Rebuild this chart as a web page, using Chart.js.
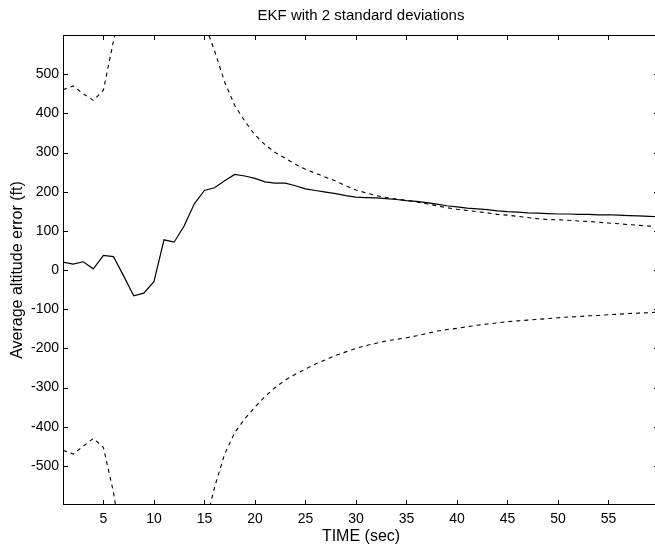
<!DOCTYPE html>
<html>
<head>
<meta charset="utf-8">
<script src="https://cdn.jsdelivr.net/npm/chart.js@4/dist/chart.umd.min.js"></script>
<style>
  html, body { margin: 0; padding: 0; background: #fff; overflow: hidden; }
  #wrap { width: 660px; height: 546px; }
</style>
</head>
<body>
<div id="wrap"><canvas id="ekfChart"></canvas></div>
<script>
// tempo (s)
const times = [1,2,3,4,5,6,7,8,9,10,11,12,13,14,15,16,17,18,19,20,
  21,22,23,24,25,26,27,28,29,30,31,32,33,34,35,36,37,38,39,40,
  41,42,43,44,45,46,47,48,49,50,51,52,53,54,55,56,57,58,59,60];

// erro medio de altitude (ft)
const avgError = [20,15,21,3,37,34,-15,-66,-59,-30,77,71,113,169,203,210,228,244,240,234,
  225,222,222,215,207,203,199,195,190,186,185,184,182,180,177,175,172,168,164,161,
  158,156,154,151,149,148,146,145,144,143,143,142,142,141,141,140,139,138,137,136];

// +2 sigma
const upperBound = [460,470,450,433,459,585,730,950,1150,1300,1350,1250,1050,850,630,560,480,420,380,345,
  320,300,285,270,257,247,237,227,215,204,197,190,185,181,178,174,169,164,159,155,
  152,149,146,142,140,137,134,131,129,128,127,125,124,122,120,118,116,114,112,110];

// -2 sigma
const lowerBound = [-460,-470,-450,-430,-453,-568,-730,-950,-1150,-1300,-1350,-1250,-1050,-850,-660,-555,-470,-415,-380,-350,
  -323,-300,-281,-266,-253,-240,-229,-218,-209,-200,-193,-187,-181,-177,-173,-168,-162,-156,-152,-149,
  -145,-141,-138,-135,-132,-130,-128,-126,-124,-122,-120,-119,-117,-116,-114,-113,-111,-110,-109,-107];

const xTicks = [5,10,15,20,25,30,35,40,45,50,55];
const yTicks = [-500,-400,-300,-200,-100,0,100,200,300,400,500];

const chartTitle = 'EKF with 2 standard deviations';

const toPoints = arr => times.map((t, i) => ({ x: t, y: arr[i] }));

const family = 'Liberation Sans, Arial, Helvetica, sans-serif';

// moldura, marcas internas estilo MATLAB e titulo centrado no grafico
const frameTicks = {
  id: 'frameTicks',
  afterDraw(chart) {
    const { ctx, chartArea: a, scales } = chart;
    const len = 5;
    ctx.save();
    ctx.strokeStyle = '#000';
    ctx.lineWidth = 1;
    ctx.strokeRect(a.left + 0.5, a.top + 0.5, a.right - a.left - 1, a.bottom - a.top - 1);
    ctx.beginPath();
    scales.x.ticks.forEach(tk => {
      const px = Math.round(scales.x.getPixelForValue(tk.value)) + 0.5;
      ctx.moveTo(px, a.bottom); ctx.lineTo(px, a.bottom - len);
      ctx.moveTo(px, a.top); ctx.lineTo(px, a.top + len);
    });
    scales.y.ticks.forEach(tk => {
      const py = Math.round(scales.y.getPixelForValue(tk.value)) + 0.5;
      ctx.moveTo(a.left, py); ctx.lineTo(a.left + len, py);
      ctx.moveTo(a.right, py); ctx.lineTo(a.right - len, py);
    });
    ctx.stroke();

    ctx.fillStyle = '#000';
    ctx.font = '15px ' + family;
    ctx.textAlign = 'center';
    ctx.textBaseline = 'middle';
    ctx.fillText(chartTitle, (a.left + a.right) / 2, 16);
    ctx.restore();
  }
};

new Chart(document.getElementById('ekfChart'), {
  type: 'line',
  data: {
    datasets: [
      { data: toPoints(avgError), borderColor: '#000', borderWidth: 1.2 },
      { data: toPoints(upperBound), borderColor: '#000', borderWidth: 1.1, borderDash: [4, 4] },
      { data: toPoints(lowerBound), borderColor: '#000', borderWidth: 1.1, borderDash: [4, 4] }
    ]
  },
  options: {
    responsive: true,
    maintainAspectRatio: false,
    animation: false,
    elements: { point: { radius: 0 }, line: { tension: 0 } },
    layout: { padding: { left: 0, right: 1, top: 35, bottom: 0 } },
    plugins: {
      legend: { display: false },
      tooltip: { enabled: false },
      title: { display: false }
    },
    scales: {
      x: {
        type: 'linear',
        min: 1,
        max: 60,
        afterBuildTicks: s => { s.ticks = xTicks.map(v => ({ value: v })); },
        afterFit: s => { s.height = 41; },
        grid: { display: false, drawTicks: false },
        border: { display: false },
        ticks: { color: '#000', font: { family, size: 14 }, padding: 6, maxRotation: 0 },
        title: { display: true, text: 'TIME (sec)', color: '#000', font: { family, size: 16 }, padding: { top: 0, bottom: 0 } }
      },
      y: {
        min: -600,
        max: 600,
        afterBuildTicks: s => { s.ticks = yTicks.map(v => ({ value: v })); },
        afterFit: s => { s.width = 63; },
        grid: { display: false, drawTicks: false },
        border: { display: false },
        ticks: { color: '#000', font: { family, size: 14 }, padding: 4 },
        title: { display: true, text: 'Average altitude error (ft)', color: '#000', font: { family, size: 16 }, padding: { top: 8, bottom: 0 } }
      }
    }
  },
  plugins: [frameTicks]
});
</script>
</body>
</html>
